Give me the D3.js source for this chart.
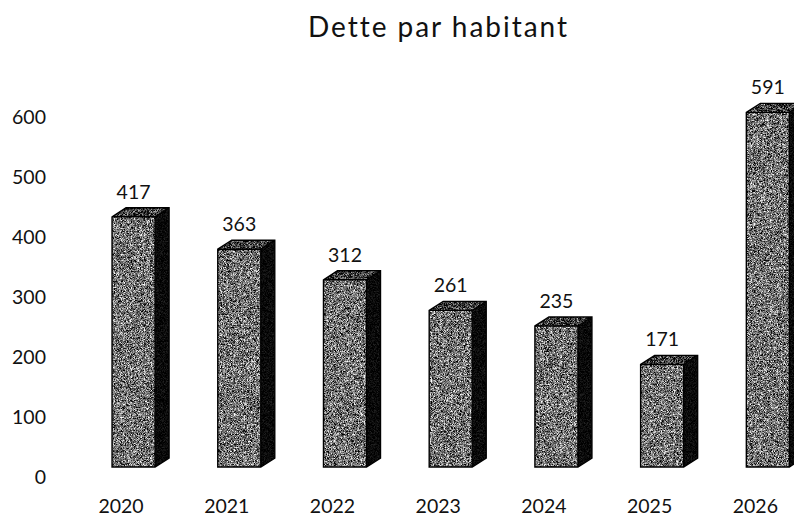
<!DOCTYPE html>
<html>
<head>
<meta charset="utf-8">
<script src="https://cdn.jsdelivr.net/npm/d3@7"></script>
<style>
  body { margin: 0; background: #fff; }
  text { font-family: Lato, "Open Sans", sans-serif; fill: #111; font-variant-ligatures: none; }
</style>
</head>
<body>
<svg width="794" height="518"></svg>
<script>
// data
var years = ["2020", "2021", "2022", "2023", "2024", "2025", "2026"];
var values = [417, 363, 312, 261, 235, 171, 591];
var yTicks = [0, 100, 200, 300, 400, 500, 600];
var title = "Dette par habitant";

var svg = d3.select("svg");

var depthX = 14, depthY = 9;

var xScale = d3.scaleBand()
      .domain(years)
      .range([80.7, 820.7])
      .paddingInner(0.593)
      .paddingOuter(0.2965);

var yScale = d3.scaleLinear()
      .domain([0, 600])
      .range([467, 107]);

// grain filter to imitate the dithered print
var defs = svg.append("defs");
function grain(id, base, contrast, seed) {
  var f = defs.append("filter").attr("id", id)
        .attr("x", 0).attr("y", 0).attr("width", 1).attr("height", 1)
        .attr("color-interpolation-filters", "sRGB");
  f.append("feTurbulence")
        .attr("type", "fractalNoise")
        .attr("baseFrequency", 2.7)
        .attr("numOctaves", 1)
        .attr("seed", seed)
        .attr("result", "noise");
  f.append("feColorMatrix")
        .attr("in", "noise")
        .attr("type", "matrix")
        .attr("values", "1 0 0 0 0  1 0 0 0 0  1 0 0 0 0  0 0 0 0 1")
        .attr("result", "gray");
  var ct = f.append("feComponentTransfer").attr("in", "gray").attr("result", "c");
  ["feFuncR", "feFuncG", "feFuncB"].forEach(function(fn) {
    ct.append(fn).attr("type", "linear")
      .attr("slope", contrast)
      .attr("intercept", base - contrast * 0.5);
  });
  f.append("feComposite")
        .attr("in", "c")
        .attr("in2", "SourceGraphic")
        .attr("operator", "in");
}
grain("frontGrain", 0.45, 2.2, 2);
grain("topGrain", 0.24, 2.0, 5);
grain("sideGrain", 0.04, 0.4, 8);

var bars = svg.append("g")
      .selectAll("g")
      .data(values)
      .enter()
      .append("g");

function pts(arr) { return arr.map(function(p) { return p.join(","); }).join(" "); }

// side face
bars.append("polygon")
      .attr("points", function(d, i) {
        var x1 = xScale(years[i]) + xScale.bandwidth();
        var yt = yScale(d), y0 = yScale(0);
        return pts([[x1, yt], [x1 + depthX, yt - depthY], [x1 + depthX, y0 - depthY], [x1, y0]]);
      })
      .attr("fill", "#0a0a0a")
      .attr("filter", "url(#sideGrain)");

// top face
bars.append("polygon")
      .attr("points", function(d, i) {
        var x0 = xScale(years[i]), x1 = x0 + xScale.bandwidth();
        var yt = yScale(d);
        return pts([[x0, yt], [x0 + depthX, yt - depthY], [x1 + depthX, yt - depthY], [x1, yt]]);
      })
      .attr("fill", "#333")
      .attr("filter", "url(#topGrain)");

// front face
bars.append("rect")
      .attr("x", function(d, i) { return xScale(years[i]); })
      .attr("y", d => yScale(d))
      .attr("width", xScale.bandwidth())
      .attr("height", d => yScale(0) - yScale(d))
      .attr("fill", "#666")
      .attr("filter", "url(#frontGrain)");

// outlines
bars.append("path")
      .attr("d", function(d, i) {
        var x0 = xScale(years[i]), x1 = x0 + xScale.bandwidth();
        var yt = yScale(d), y0 = yScale(0);
        return "M" + x0 + "," + y0 + "V" + yt + "L" + (x0 + depthX) + "," + (yt - depthY) +
          "H" + (x1 + depthX) + "V" + (y0 - depthY) + "L" + x1 + "," + y0 + "Z" +
          "M" + x0 + "," + yt + "H" + x1 + "V" + y0 + "M" + x1 + "," + yt + "L" + (x1 + depthX) + "," + (yt - depthY);
      })
      .attr("fill", "none")
      .attr("stroke", "#000")
      .attr("stroke-width", 1.4);

// value labels
bars.append("text")
      .attr("x", function(d, i) { return xScale(years[i]) + xScale.bandwidth() / 2; })
      .attr("y", d => yScale(d) - 18)
      .attr("text-anchor", "middle")
      .attr("font-size", 19.5)
      .text(d => d);

// y axis
var yAxis = d3.axisLeft(yScale)
      .tickValues(yTicks)
      .tickSize(0)
      .tickPadding(0);

var yG = svg.append("g")
      .attr("transform", "translate(46,10)")
      .call(yAxis);
yG.select(".domain").remove();
yG.selectAll("text").attr("font-size", 19.5).attr("font-family", "Lato, sans-serif").attr("fill", "#111");

// x axis
var xAxis = d3.axisBottom(xScale)
      .tickSize(0)
      .tickPadding(32);

var xG = svg.append("g")
      .attr("transform", "translate(-12.5,467)")
      .call(xAxis);
xG.select(".domain").remove();
xG.selectAll("text").attr("font-size", 19.5).attr("font-family", "Lato, sans-serif").attr("fill", "#111");

// title
svg.append("text")
      .attr("x", 437.5)
      .attr("y", 37)
      .attr("text-anchor", "middle")
      .attr("font-size", 28)
      .attr("textLength", 259)
      .attr("lengthAdjust", "spacing")
      .text(title);
</script>
</body>
</html>
